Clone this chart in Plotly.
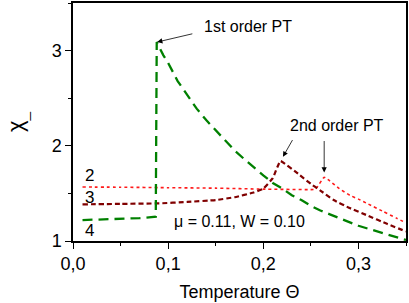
import plotly.graph_objects as go

# Curve 4 (green, long dash) - first order transition
x4 = [0.01, 0.04, 0.07, 0.087, 0.088, 0.095, 0.10, 0.11, 0.12, 0.13, 0.14, 0.15, 0.16, 0.17,
      0.18, 0.19, 0.20, 0.21, 0.22, 0.23, 0.24, 0.25, 0.26, 0.27, 0.28, 0.29, 0.30, 0.31,
      0.32, 0.33, 0.34, 0.35]
y4 = [1.22, 1.228, 1.24, 1.255, 3.09, 2.95, 2.87, 2.68, 2.53, 2.39, 2.27, 2.16, 2.05, 1.95,
      1.86, 1.77, 1.69, 1.61, 1.55, 1.48, 1.43, 1.37, 1.32, 1.28, 1.24, 1.20, 1.16, 1.13,
      1.10, 1.07, 1.04, 1.01]

# Curve 3 (dark red, short dash)
x3 = [0.01, 0.05, 0.09, 0.12, 0.15, 0.17, 0.19, 0.20, 0.21, 0.218, 0.2386, 0.25, 0.26,
      0.274, 0.29, 0.309, 0.33, 0.35]
y3 = [1.385, 1.39, 1.395, 1.41, 1.43, 1.46, 1.51, 1.55, 1.66, 1.84, 1.69, 1.60, 1.53,
      1.43, 1.35, 1.27, 1.18, 1.10]

# Curve 2 (red, dotted)
x2 = [0.01, 0.05, 0.10, 0.15, 0.20, 0.25, 0.255, 0.264, 0.27, 0.28, 0.291, 0.30, 0.31,
      0.326, 0.34, 0.35]
y2 = [1.567, 1.565, 1.56, 1.555, 1.545, 1.54, 1.545, 1.67, 1.63, 1.55, 1.48, 1.44, 1.39,
      1.31, 1.24, 1.19]

x_ticks = [0.0, 0.1, 0.2, 0.3]
x_ticklabels = ["0,0", "0,1", "0,2", "0,3"]
y_ticks = [1, 2, 3]
y_ticklabels = ["1", "2", "3"]

FONT = "Liberation Sans, Arial, sans-serif"

fig = go.Figure()
fig.add_trace(go.Scatter(x=x2, y=y2, mode="lines",
                         line=dict(color="#ff1a1a", width=1.6, dash="dot", shape="spline", smoothing=0.3)))
fig.add_trace(go.Scatter(x=x3, y=y3, mode="lines",
                         line=dict(color="#800000", width=2.2, dash="5px,3px", shape="spline", smoothing=0.3)))
fig.add_trace(go.Scatter(x=x4, y=y4, mode="lines",
                         line=dict(color="#008000", width=2.3, dash="10px,6px")))

annos = [
    dict(x=0.184, y=3.257, text="1st order PT", showarrow=False, font=dict(size=16)),
    dict(x=0.2776, y=2.212, text="2nd order PT", showarrow=False, font=dict(size=16)),
    dict(x=0.1755, y=1.209, text="μ = 0.11, W = 0.10", showarrow=False, font=dict(size=16)),
    dict(x=0.0176, y=1.69, text="2", showarrow=False, font=dict(size=17)),
    dict(x=0.0176, y=1.46, text="3", showarrow=False, font=dict(size=17)),
    dict(x=0.0176, y=1.115, text="4", showarrow=False, font=dict(size=17)),
    dict(x=0.0885, y=3.09, ax=0.127, ay=3.18, axref="x", ayref="y", text="", showarrow=True,
         arrowhead=2, arrowsize=1.3, arrowwidth=0.8, arrowcolor="black"),
    dict(x=0.2207, y=1.885, ax=0.2316, ay=2.076, axref="x", ayref="y", text="", showarrow=True,
         arrowhead=2, arrowsize=1.3, arrowwidth=0.8, arrowcolor="black"),
    dict(x=0.264, y=1.72, ax=0.264, ay=2.066, axref="x", ayref="y", text="", showarrow=True,
         arrowhead=2, arrowsize=1.3, arrowwidth=0.8, arrowcolor="black"),
]

fig.update_layout(
    width=409, height=303,
    margin=dict(l=73, r=3, t=1, b=62),
    paper_bgcolor="white", plot_bgcolor="white",
    showlegend=False,
    font=dict(family=FONT, size=18, color="black"),
    annotations=annos,
)
fig.update_xaxes(
    range=[0, 0.35], tickvals=x_ticks, ticktext=x_ticklabels,
    showgrid=False, zeroline=False,
    showline=True, linecolor="black", linewidth=1.5, mirror=True,
    ticks="outside", ticklen=6, tickwidth=1.2, tickcolor="black",
    minor=dict(dtick=0.05, tick0=0, ticks="outside", ticklen=3, tickwidth=1, tickcolor="black"),
    tickfont=dict(size=18),
    title=dict(text="Temperature Θ", font=dict(size=18), standoff=12),
)
fig.update_yaxes(
    range=[1, 3.5], tickvals=y_ticks, ticktext=y_ticklabels,
    showgrid=False, zeroline=False,
    showline=True, linecolor="black", linewidth=1.5, mirror=True,
    ticks="outside", ticklen=6, tickwidth=1.2, tickcolor="black",
    minor=dict(dtick=0.5, tick0=1, ticks="outside", ticklen=3, tickwidth=1, tickcolor="black"),
    tickfont=dict(size=18),
    title=dict(text="χ<sub>_</sub>", font=dict(size=22), standoff=22),
)

fig.write_html(
    "out.html",
    config={"displayModeBar": False},
    post_script="document.body.style.margin='0px';document.body.style.overflow='hidden';",
)
